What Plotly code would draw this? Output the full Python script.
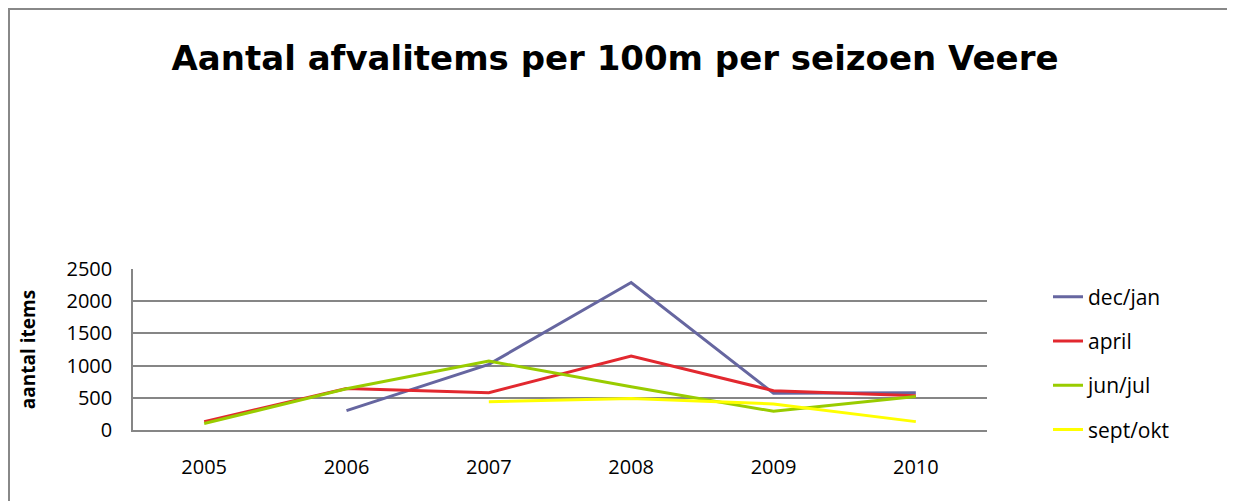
import plotly.graph_objects as go

years = ["2005", "2006", "2007", "2008", "2009", "2010"]
dec_jan = [None, 300, 1020, 2290, 570, 580]
april = [130, 645, 580, 1150, 610, 530]
jun_jul = [100, 640, 1070, 670, 290, 520]
sept_okt = [None, None, 440, 490, 405, 130]

series_names = ["dec/jan", "april", "jun/jul", "sept/okt"]
series_values = [dec_jan, april, jun_jul, sept_okt]
colors = ["#6666A0", "#E2282F", "#99CC00", "#FFFF00"]

y_ticks = [0, 500, 1000, 1500, 2000, 2500]

font_main = "Open Sans"

# figure size compensates for the 8px default page margin
W, H = 1227, 493
L, R, T, B = 125, 248, 261, 71
PW, PH = W - L - R, H - T - B

fig = go.Figure()
for name, vals, col in zip(series_names, series_values, colors):
    fig.add_trace(go.Scatter(
        x=years, y=vals, name=name, mode="lines",
        line=dict(color=col, width=3),
        legendgroup=name, connectgaps=False,
    ))

fig.update_layout(
    width=W, height=H,
    margin=dict(l=L, r=R, t=T, b=B),
    paper_bgcolor="white", plot_bgcolor="white",
    title=dict(
        text="<b>Aantal afvalitems per 100m per seizoen Veere</b>",
        x=(615 - 8) / W, xref="container", xanchor="center",
        y=1 - 50 / H, yref="container", yanchor="middle",
        font=dict(family="DejaVu Sans", size=34, color="black"),
    ),
    showlegend=True,
    legend=dict(
        x=(1040 - L) / PW, xanchor="left", y=0.413, yanchor="middle",
        font=dict(family=font_main, size=21, color="black"),
        tracegroupgap=14, traceorder="grouped", maxheight=400,
        bgcolor="rgba(0,0,0,0)",
    ),
    xaxis=dict(
        type="category", range=[-0.5, 5.5],
        showgrid=False, showline=True, linecolor="#868686", linewidth=1.5,
        ticks="", ticklabelstandoff=18,
        tickfont=dict(family=font_main, size=20, color="black"),
        fixedrange=True,
    ),
    yaxis=dict(
        range=[0, 2500], tickvals=y_ticks,
        showgrid=True, gridcolor="#868686", gridwidth=1.5,
        showline=True, linecolor="#868686", linewidth=1.5,
        zeroline=False, ticks="", ticklabelstandoff=15,
        tickfont=dict(family=font_main, size=20, color="black"),
        title=dict(text="<b>aantal items</b>", standoff=26,
                   font=dict(family=font_main, size=19, color="black")),
        fixedrange=True,
    ),
    shapes=[dict(
        type="rect", xref="paper", yref="paper",
        x0=(1 - L) / PW, x1=(1223 - L) / PW, y0=-1, y1=(PH + T - 1) / PH,
        line=dict(color="#888888", width=2), fillcolor="rgba(0,0,0,0)",
        layer="below",
    )],
)

fig.write_html("out.html")
